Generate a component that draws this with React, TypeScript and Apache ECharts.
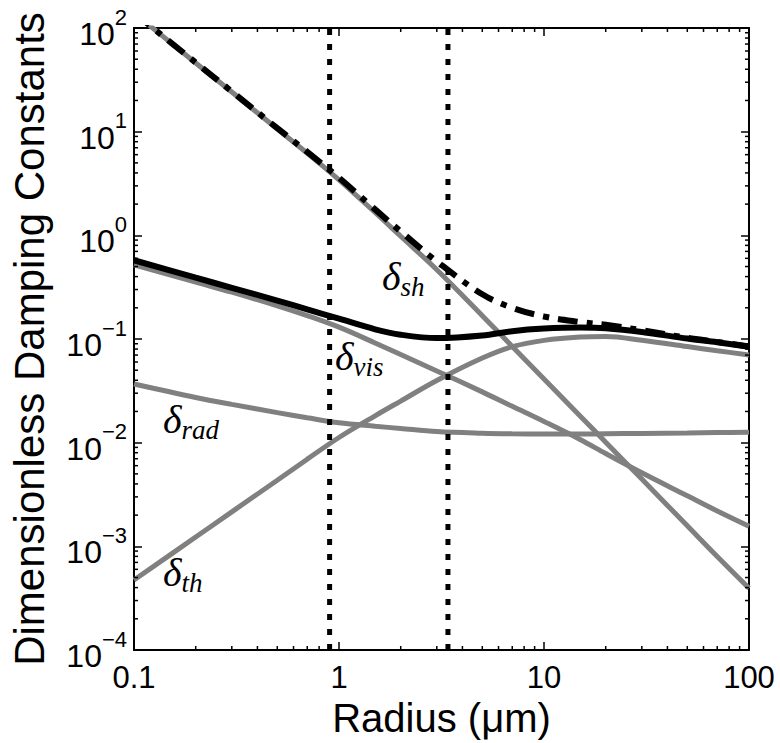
import React, { useEffect, useRef } from "react";
import * as echarts from "echarts";

// ---- data (log-log) ----
const radius = [0.1, 0.2, 0.3, 0.5, 0.7, 1, 1.5, 2, 3, 5, 7, 10, 15, 20, 30, 50, 70, 100];
const deltaSh = [140, 46.0, 24.1, 10.6, 6.19, 3.43, 1.66, 0.98, 0.466, 0.168, 0.0847, 0.0411, 0.0181, 0.0101, 0.00445, 0.00158, 0.000798, 0.000394];
const deltaVis = [0.52, 0.354, 0.283, 0.209, 0.168, 0.13, 0.0916, 0.0708, 0.0492, 0.0309, 0.0224, 0.016, 0.01074, 0.00785, 0.00512, 0.00307, 0.00219, 0.00156];
const deltaRad = [0.0368, 0.0273, 0.0234, 0.0195, 0.0174, 0.01556, 0.0144, 0.01371, 0.01282, 0.01234, 0.01218, 0.01213, 0.01213, 0.01218, 0.01228, 0.0124, 0.0125, 0.01259];
const deltaTh = [0.000473, 0.00123, 0.00215, 0.00434, 0.00693, 0.01122, 0.01817, 0.0252, 0.0398, 0.0655, 0.0843, 0.097, 0.1045, 0.1057, 0.0973, 0.0845, 0.0771, 0.0702];
const deltaTotal = [0.575, 0.39, 0.312, 0.235, 0.193, 0.157, 0.124, 0.11, 0.102, 0.108, 0.119, 0.126, 0.129, 0.127, 0.117, 0.101, 0.093, 0.0843];
const deltaTotalSh = [140.6, 46.4, 24.4, 10.8, 6.38, 3.59, 1.78, 1.09, 0.56, 0.27, 0.2, 0.165, 0.146, 0.137, 0.1215, 0.1026, 0.0938, 0.0847];
const markerRadii = [0.9, 3.4];

// ---- axis scaffolding ----
const xRange = [0.1, 100];
const yRange = [1e-4, 100];
const xTickLabels = ["0.1", "1", "10", "100"];
const yTickExponents = ["−4", "−3", "−2", "−1", "0", "1", "2"];
const minorMultipliers = [2, 3, 4, 5, 6, 7, 8, 9];
const xDecades = [0.1, 1, 10];
const yDecades = [1e-4, 1e-3, 1e-2, 1e-1, 1, 10];

const FONT = "Liberation Sans, Arial, Helvetica, sans-serif";
const SERIF = "Liberation Serif, Times New Roman, serif";
const GREY = "#808080";

const labelRich = {
  d: { fontFamily: SERIF, fontStyle: "italic", fontSize: 40, fill: "#000", lineHeight: 44, verticalAlign: "top" },
  s: { fontFamily: SERIF, fontStyle: "italic", fontSize: 27, fill: "#000", lineHeight: 26, verticalAlign: "bottom" },
};

export default function App() {
  const ref = useRef<HTMLDivElement>(null);

  useEffect(() => {
    const chart = echarts.init(ref.current as HTMLDivElement, null, { renderer: "svg" });
    const pts = (ys: number[]) => radius.map((r, i) => [r, ys[i]]);
    const xMinor: number[] = [];
    xDecades.forEach((d) => minorMultipliers.forEach((m) => xMinor.push(+(d * m).toPrecision(3))));
    const yMinor: number[] = [];
    yDecades.forEach((d) => minorMultipliers.forEach((m) => yMinor.push(+(d * m).toPrecision(3))));

    const axisLine = { show: true, lineStyle: { color: "#000", width: 2 } };
    const majorTick = { show: true, inside: true, length: 8, lineStyle: { color: "#000", width: 1.5 } };
    const tickStyle = { stroke: "#000", lineWidth: 1.5 };

    const greyLine = (name: string, ys: number[]) => ({
      name,
      type: "line",
      data: pts(ys),
      smooth: 0.35,
      showSymbol: false,
      symbol: "none",
      clip: true,
      lineStyle: { color: GREY, width: 5 },
      z: 2,
    });

    const deltaLabel = (x: number, y: number, sub: string) => ({
      type: "text",
      x,
      y,
      z: 10,
      style: { text: `{d|δ}{s|${sub}}`, align: "left", verticalAlign: "middle", rich: labelRich },
    });

    const option: any = {
      animation: false,
      textStyle: { fontFamily: FONT },
      grid: { left: 127, right: 31, top: 28, bottom: 93 },
      xAxis: [
        {
          type: "log",
          logBase: 10,
          min: xRange[0],
          max: xRange[1],
          interval: 1,
          position: "bottom",
          axisLine,
          axisTick: majorTick,
          splitLine: { show: false },
          minorTick: { show: false },
          axisLabel: {
            show: true,
            margin: 12,
            color: "#000",
            fontFamily: FONT,
            fontSize: 31,
            formatter: (v: number) => xTickLabels[Math.round(Math.log10(v)) + 1] ?? "",
          },
          name: "Radius (μm)",
          nameLocation: "middle",
          nameGap: 42,
          nameTextStyle: { fontFamily: FONT, fontSize: 40, color: "#000" },
        },
        {
          type: "log",
          logBase: 10,
          min: xRange[0],
          max: xRange[1],
          interval: 1,
          position: "top",
          axisLine,
          axisTick: majorTick,
          splitLine: { show: false },
          axisLabel: { show: false },
        },
      ],
      yAxis: [
        {
          type: "log",
          logBase: 10,
          min: yRange[0],
          max: yRange[1],
          interval: 1,
          position: "left",
          axisLine,
          axisTick: majorTick,
          splitLine: { show: false },
          axisLabel: {
            show: true,
            margin: 7,
            color: "#000",
            formatter: (v: number) => `{b|10}{e|${yTickExponents[Math.round(Math.log10(v)) + 4] ?? ""}}`,
            rich: {
              b: { fontFamily: FONT, fontSize: 32, color: "#000", lineHeight: 44, verticalAlign: "bottom" },
              e: { fontFamily: FONT, fontSize: 22, color: "#000", lineHeight: 16, verticalAlign: "top" },
            },
          },
          name: "Dimensionless Damping Constants",
          nameLocation: "middle",
          nameRotate: 90,
          nameGap: 84,
          nameTextStyle: { fontFamily: FONT, fontSize: 42, color: "#000" },
        },
        {
          type: "log",
          logBase: 10,
          min: yRange[0],
          max: yRange[1],
          interval: 1,
          position: "right",
          axisLine,
          axisTick: majorTick,
          splitLine: { show: false },
          axisLabel: { show: false },
        },
      ],
      series: [
        {
          name: "xMinorTicks",
          type: "custom",
          silent: true,
          clip: false,
          data: xMinor.map((v) => [v, 1]),
          encode: { x: 0, y: 1 },
          renderItem: (params: any, api: any) => {
            const p = api.coord([api.value(0), 1]);
            const cs = params.coordSys;
            return {
              type: "group",
              children: [
                { type: "line", shape: { x1: p[0], y1: cs.y + cs.height, x2: p[0], y2: cs.y + cs.height - 4 }, style: tickStyle },
                { type: "line", shape: { x1: p[0], y1: cs.y, x2: p[0], y2: cs.y + 4 }, style: tickStyle },
              ],
            };
          },
          z: 5,
        },
        {
          name: "yMinorTicks",
          type: "custom",
          silent: true,
          clip: false,
          data: yMinor.map((v) => [1, v]),
          encode: { x: 0, y: 1 },
          renderItem: (params: any, api: any) => {
            const p = api.coord([1, api.value(1)]);
            const cs = params.coordSys;
            return {
              type: "group",
              children: [
                { type: "line", shape: { x1: cs.x, y1: p[1], x2: cs.x + 4, y2: p[1] }, style: tickStyle },
                { type: "line", shape: { x1: cs.x + cs.width, y1: p[1], x2: cs.x + cs.width - 4, y2: p[1] }, style: tickStyle },
              ],
            };
          },
          z: 5,
        },
        greyLine("δsh", deltaSh),
        greyLine("δvis", deltaVis),
        greyLine("δrad", deltaRad),
        greyLine("δth", deltaTh),
        {
          name: "total",
          type: "line",
          data: pts(deltaTotal),
          smooth: 0.35,
          showSymbol: false,
          symbol: "none",
          clip: true,
          lineStyle: { color: "#000", width: 6 },
          z: 3,
        },
        {
          name: "total+sh",
          type: "line",
          data: pts(deltaTotalSh),
          smooth: 0.35,
          showSymbol: false,
          symbol: "none",
          clip: true,
          lineStyle: { color: "#000", width: 6, type: [20, 9, 6, 9], cap: "butt" },
          z: 4,
        },
        ...markerRadii.map((r, i) => ({
          name: "marker" + i,
          type: "line",
          data: [
            [r, yRange[0]],
            [r, yRange[1]],
          ],
          showSymbol: false,
          symbol: "none",
          clip: true,
          lineStyle: { color: "#000", width: 5, type: [6, 9], cap: "butt" },
          z: 6,
        })),
      ],
      graphic: [
        deltaLabel(382, 278, "sh"),
        deltaLabel(335, 358, "vis"),
        deltaLabel(163, 421, "rad"),
        deltaLabel(163, 574, "th"),
      ],
    };

    chart.setOption(option);
    return () => chart.dispose();
  }, []);

  return <div ref={ref} style={{ position: "fixed", left: 0, top: 0, width: 780, height: 743, background: "#fff" }} />;
}
